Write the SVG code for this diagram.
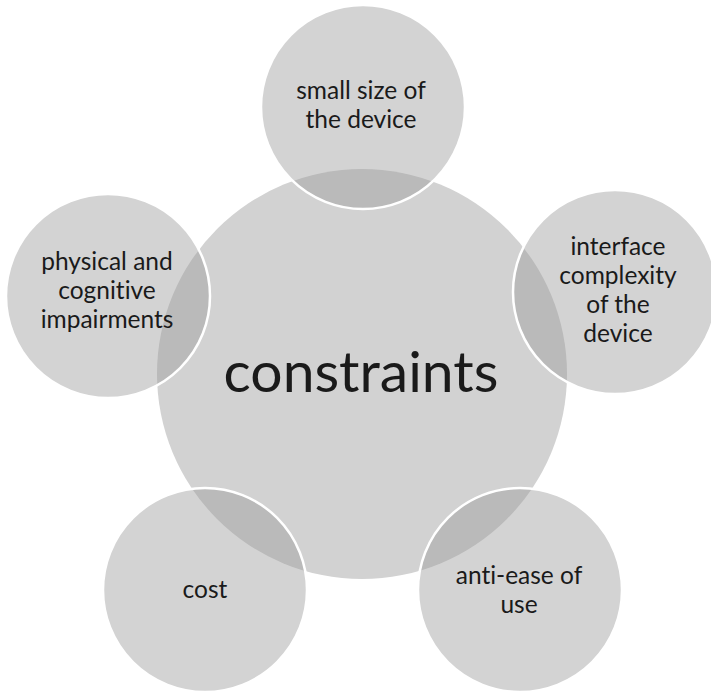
<svg xmlns="http://www.w3.org/2000/svg" width="711" height="696" viewBox="0 0 711 696">
  <style>
    .hub { fill: #d2d2d2; }
    .spoke { fill: #9a9a9a; fill-opacity: 0.44; stroke: #ffffff; stroke-width: 2.5; }
    text { font-family: Lato, "Open Sans", "Liberation Sans", sans-serif; fill: #1a1a1a; text-anchor: middle; font-variant-ligatures: none; }
    .lbl { font-size: 24.5px; }
    .big { font-size: 57px; }
  </style>
  <rect width="711" height="696" fill="#ffffff"/>

  <!-- central circle -->
  <g id="node-constraints">
    <circle class="hub" cx="362" cy="374" r="205"/>
  </g>

  <!-- surrounding circles (translucent, overlapping the hub) -->
  <g id="node-small-size">
    <circle class="spoke" cx="363" cy="107" r="102"/>
  </g>
  <g id="node-interface">
    <circle class="spoke" cx="615" cy="292" r="102"/>
  </g>
  <g id="node-anti-ease">
    <circle class="spoke" cx="520" cy="590" r="102"/>
  </g>
  <g id="node-cost">
    <circle class="spoke" cx="205" cy="590" r="102"/>
  </g>
  <g id="node-impairments">
    <circle class="spoke" cx="108" cy="296" r="102"/>
  </g>

  <g id="connectors"></g>

  <!-- labels -->
  <g id="labels">
    <text class="big" x="361" y="392">constraints</text>
    <text class="lbl" x="361" y="99">small size of</text>
    <text class="lbl" x="361" y="128">the device</text>
    <text class="lbl" x="618" y="255">interface</text>
    <text class="lbl" x="618" y="284">complexity</text>
    <text class="lbl" x="618" y="313">of the</text>
    <text class="lbl" x="618" y="342">device</text>
    <text class="lbl" x="519" y="584">anti-ease of</text>
    <text class="lbl" x="519" y="613">use</text>
    <text class="lbl" x="205" y="598">cost</text>
    <text class="lbl" x="107" y="270">physical and</text>
    <text class="lbl" x="107" y="299">cognitive</text>
    <text class="lbl" x="107" y="328">impairments</text>
  </g>
</svg>
